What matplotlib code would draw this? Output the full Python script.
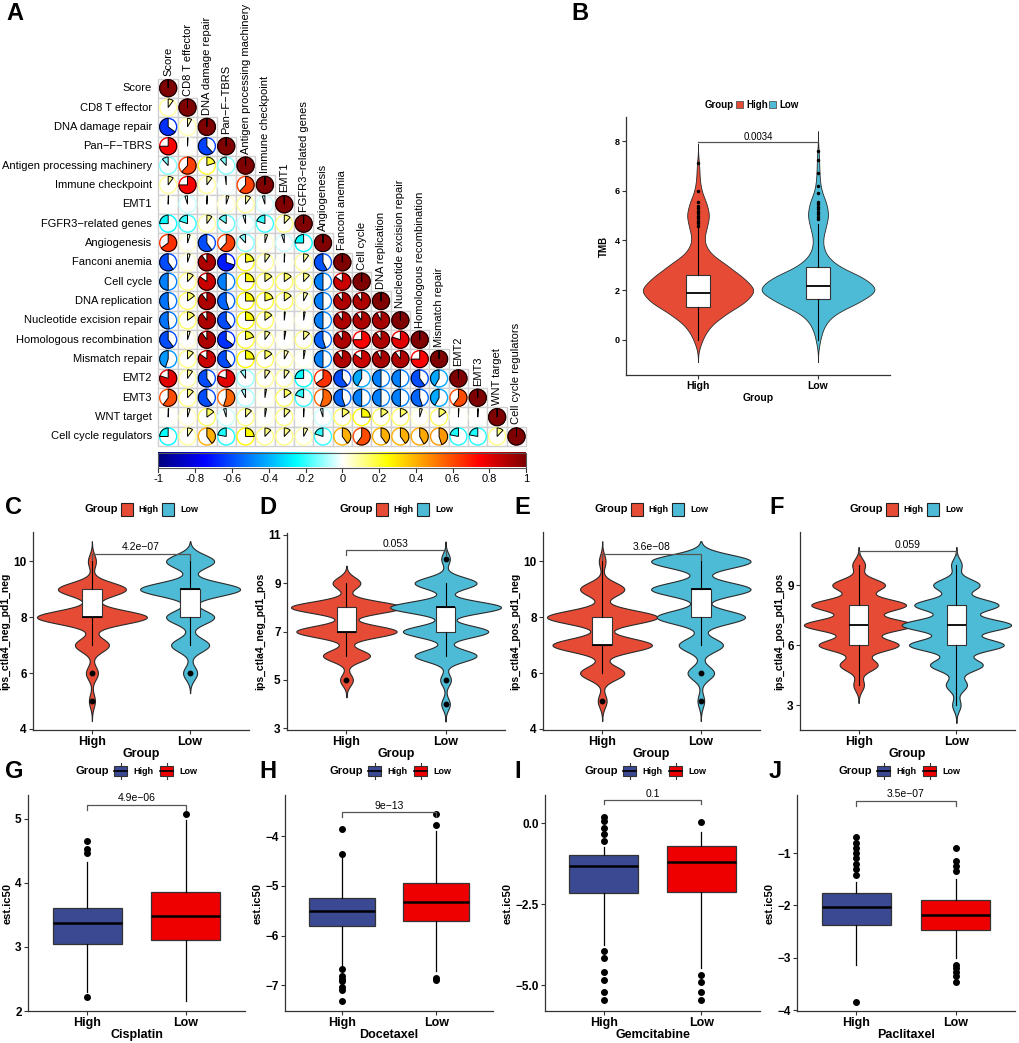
import numpy as np
import matplotlib
matplotlib.use("Agg")
import matplotlib.pyplot as plt
from matplotlib.patches import Wedge, Circle, Rectangle
from matplotlib.colors import LinearSegmentedColormap

plt.rcParams['font.family'] = ['Liberation Sans', 'DejaVu Sans']

W, H = 1020, 1043

# ----------------------------- Panel A data -----------------------------
signatures = ["Score", "CD8 T effector", "DNA damage repair", "Pan\u2212F\u2212TBRS",
              "Antigen processing machinery", "Immune checkpoint", "EMT1",
              "FGFR3\u2212related genes", "Angiogenesis", "Fanconi anemia", "Cell cycle",
              "DNA replication", "Nucleotide excision repair", "Homologous recombination",
              "Mismatch repair", "EMT2", "EMT3", "WNT target", "Cell cycle regulators"]
corr_lower = [
    [1],
    [0.10, 1],
    [-0.65, 0.08, 1],
    [0.75, 0.01, -0.62, 1],
    [-0.12, 0.62, 0.20, -0.12, 1],
    [0.10, 0.75, 0.10, -0.02, 0.62, 1],
    [0.01, -0.05, 0.01, 0.05, 0.10, -0.05, 1],
    [-0.25, -0.20, 0.10, -0.15, -0.05, -0.20, 0.12, 1],
    [0.65, 0.05, -0.60, 0.62, -0.12, 0.05, -0.05, -0.25, 1],
    [-0.60, 0.05, 0.90, -0.70, 0.22, 0.10, 0.01, 0.10, -0.58, 1],
    [-0.50, 0.12, 0.85, -0.50, 0.25, 0.15, 0.15, 0.12, -0.50, 0.85, 1],
    [-0.52, 0.15, 0.90, -0.55, 0.25, 0.20, 0.15, 0.08, -0.50, 0.90, 0.90, 1],
    [-0.52, 0.15, 0.90, -0.60, 0.25, 0.15, 0.02, 0.03, -0.50, 0.90, 0.90, 0.92, 1],
    [-0.60, 0.05, 0.90, -0.65, 0.20, 0.10, 0.03, 0.12, -0.55, 0.90, 0.75, 0.90, 0.80, 1],
    [-0.45, 0.12, 0.85, -0.60, 0.25, 0.15, 0.08, 0.03, -0.50, 0.90, 0.85, 0.92, 0.90, 0.75, 1],
    [0.80, 0.10, -0.60, 0.80, -0.10, 0.10, 0.10, -0.25, 0.65, -0.60, -0.42, -0.50, -0.50,
     -0.60, -0.42, 1],
    [0.60, 0.12, -0.60, 0.55, -0.08, 0.03, 0.15, -0.20, 0.55, -0.55, -0.50, -0.50, -0.50,
     -0.55, -0.42, 0.60, 1],
    [0.01, 0.05, 0.15, -0.05, 0.12, 0.03, 0.12, 0.01, -0.05, 0.15, 0.25, 0.15, 0.15, 0.05,
     0.15, 0.01, 0.01, 1],
    [-0.25, 0.10, 0.40, -0.22, 0.25, 0.12, 0.12, 0.08, -0.20, 0.40, 0.60, 0.40, 0.40, 0.42,
     0.45, -0.22, -0.22, 0.12, 1],
]
cbar_ticks = [-1, -0.8, -0.6, -0.4, -0.2, 0, 0.2, 0.4, 0.6, 0.8, 1]
cbar_labels = ["-1", "-0.8", "-0.6", "-0.4", "-0.2", "0", "0.2", "0.4", "0.6", "0.8", "1"]

# ----------------------------- Panel B data (TMB) -----------------------------
groups = ["High", "Low"]
tmb_levels = [0, 0.5, 1.0, 1.5, 2.0, 2.5, 3.0, 3.5, 4.0, 4.5, 5.0, 5.5, 6.0, 6.5, 7.0, 7.5]
tmb_high_w = [4, 10, 24, 44, 55, 42, 27, 10, 5, 8, 11, 8, 3, 1.5, 1.2, 0]
tmb_low_w = [2, 5, 13, 38, 58, 43, 16, 6, 4, 7, 10, 8, 3, 1.5, 1.2, 0.8]
tmb_high_box = dict(whislo=0.0, q1=1.31, med=1.90, q3=2.61, whishi=4.55)
tmb_low_box = dict(whislo=0.0, q1=1.65, med=2.17, q3=2.92, whishi=4.68)
tmb_high_out = [4.6, 4.7, 4.8, 4.9, 5.0, 5.1, 5.2, 5.3, 5.4, 5.55, 6.0, 7.1]
tmb_low_out = [4.85, 4.95, 5.05, 5.15, 5.25, 5.35, 5.45, 5.55, 5.9, 6.2, 6.7, 7.25, 7.6]
tmb_p = "0.0034"

# ----------------------------- Panels C-F data (IPS) -----------------------------
ips_levels = [4, 5, 6, 7, 8, 9, 10]
C_high_w = [0, 3, 6, 17, 55, 34, 4]
C_low_w = [0, 0, 7, 19, 24, 50, 24]
C_high_box = dict(whislo=7, q1=8, med=8, q3=9, whishi=10)
C_low_box = dict(whislo=7, q1=8, med=9, q3=9, whishi=10)
C_high_out = [6, 5]
C_low_out = [6]
C_p = "4.2e\u221207"

D_high_w = [0, 6, 22, 47, 52, 13, 0]
D_low_w = [4, 5, 29, 40, 52, 29, 4]
D_high_box = dict(whislo=6, q1=7, med=7, q3=8, whishi=9)
D_low_box = dict(whislo=6, q1=7, med=8, q3=8, whishi=9)
D_high_out = [5]
D_low_out = [10, 5, 4]
D_p = "0.053"

E_high_w = [0, 4, 20, 45, 50, 20, 3]
E_low_w = [0, 3, 12, 20, 40, 45, 45]
E_high_box = dict(whislo=6, q1=7, med=7, q3=8, whishi=10)
E_low_box = dict(whislo=7, q1=8, med=9, q3=9, whishi=10)
E_high_out = [5]
E_low_out = [6, 5]
E_p = "3.6e\u221208"

F_levels = [3, 4, 5, 6, 7, 8, 9, 10]
F_high_w = [0, 5, 18, 38, 52, 45, 25, 6]
F_low_w = [4, 10, 25, 45, 52, 40, 22, 5]
F_high_box = dict(whislo=4, q1=6, med=7, q3=8, whishi=10)
F_low_box = dict(whislo=3, q1=6, med=7, q3=8, whishi=10)
F_p = "0.059"

# ----------------------------- Panels G-J data (drug IC50) -----------------------------
drugs = ["Cisplatin", "Docetaxel", "Gemcitabine", "Paclitaxel"]
G_box = [dict(whislo=2.30, q1=3.05, med=3.37, q3=3.61, whishi=4.33, fliers=[4.47, 4.52, 4.66, 2.22]),
         dict(whislo=2.15, q1=3.10, med=3.48, q3=3.86, whishi=4.98, fliers=[5.07])]
H_box = [dict(whislo=-6.60, q1=-5.81, med=-5.50, q3=-5.25, whishi=-4.43,
              fliers=[-4.35, -3.85, -6.67, -6.82, -6.87, -6.92, -7.03, -7.10, -7.32]),
         dict(whislo=-6.72, q1=-5.70, med=-5.32, q3=-4.95, whishi=-3.90,
              fliers=[-3.78, -3.55, -6.86, -6.90])]
I_box = [dict(whislo=-3.77, q1=-2.16, med=-1.33, q3=-0.99, whishi=-0.75,
              fliers=[-0.55, -0.35, -0.15, 0.05, 0.2, -3.95, -4.15, -4.6, -4.85, -5.2, -5.45]),
         dict(whislo=-4.48, q1=-2.13, med=-1.20, q3=-0.71, whishi=-0.28,
              fliers=[0.03, -4.7, -4.9, -5.2, -5.45])]
J_box = [dict(whislo=-3.13, q1=-2.37, med=-2.03, q3=-1.76, whishi=-1.55,
              fliers=[-0.7, -0.8, -0.9, -1.0, -1.1, -1.2, -1.3, -1.42, -3.84]),
         dict(whislo=-3.0, q1=-2.47, med=-2.18, q3=-1.90, whishi=-1.5,
              fliers=[-0.9, -1.15, -1.25, -1.35, -3.13, -3.2, -3.27, -3.35, -3.45])]
drug_p = ["4.9e\u221206", "9e\u221213", "0.1", "3.5e\u221207"]

# ----------------------------- colours -----------------------------
VIO_COL = ["#E64B35", "#4DBBD5"]
BOX_COL = ["#3B4992", "#EE0000"]
corr_cmap = LinearSegmentedColormap.from_list(
    "corr", ["#00007F", "blue", "#007FFF", "cyan", "white", "yellow", "#FF7F00", "red", "#7F0000"])

fig = plt.figure(figsize=(W / 100, H / 100), dpi=100)


def px_axes(l, t, r, b):
    return fig.add_axes([l / W, 1 - b / H, (r - l) / W, (b - t) / H])


# ============================ Panel A ============================
cell = 19.35
x0, y0 = 158.5, 78.5
axA = px_axes(0, 0, 560, 490)
axA.set_xlim(-x0 / cell, (560 - x0) / cell)
axA.set_ylim(-(490 - y0) / cell, y0 / cell)
axA.axis("off")
n = len(signatures)
for i, row in enumerate(corr_lower):
    for j, r in enumerate(row):
        cx, cy = j + 0.5, -(i + 0.5)
        axA.add_patch(Rectangle((j, -(i + 1)), 1, 1, fc="white", ec="#D0D0D0", lw=1.0, zorder=1))
        col = corr_cmap((r + 1) / 2)
        rad = 0.44
        axA.add_patch(Circle((cx, cy), rad, fc="white", ec=col, lw=1.0, zorder=2))
        ang = 360 * min(abs(r), 0.9995)
        if r >= 0:
            t1, t2 = 90 - ang, 90
        else:
            t1, t2 = 90, 90 + ang
        axA.add_patch(Wedge((cx, cy), rad, t1, t2, fc=col, ec="black", lw=0.7, zorder=3))
    axA.text(-0.33, -(i + 0.5), signatures[i], ha="right", va="center", fontsize=8)
    axA.text(i + 0.5, -i + 0.12, signatures[i], ha="center", va="bottom", rotation=90, fontsize=8)

grad = np.linspace(-1, 1, 256)[None, :]
cb_top, cb_bot = -(453 - y0) / cell, -(467.5 - y0) / cell
axA.imshow(grad, cmap=corr_cmap, vmin=-1, vmax=1, aspect="auto",
           extent=[0, n, cb_bot, cb_top], zorder=2)
axA.add_patch(Rectangle((0, cb_bot), n, cb_top - cb_bot, fc="none", ec="#555555", lw=0.8, zorder=3))
for tv, tl in zip(cbar_ticks, cbar_labels):
    xx = (tv + 1) / 2 * n
    axA.plot([xx, xx], [cb_bot, cb_bot - 0.22], color="#333333", lw=0.8)
    axA.text(xx, cb_bot - 0.35, tl, ha="center", va="top", fontsize=8)


# ============================ helpers ============================
def style_axes(ax, fs=8):
    for s in ["top", "right"]:
        ax.spines[s].set_visible(False)
    for s in ["left", "bottom"]:
        ax.spines[s].set_color("#333333")
        ax.spines[s].set_linewidth(0.9)
    ax.tick_params(axis="both", colors="#333333", length=3, width=0.8, labelsize=fs,
                   labelcolor="black", pad=1.5)
    for lab in ax.get_xticklabels() + ax.get_yticklabels():
        lab.set_fontweight("bold")
    ax.patch.set_alpha(0)


def kde_profile(levels, weights, h):
    lv = np.asarray(levels, float)
    w = np.asarray(weights, float)
    nz = lv[w > 0]
    g = np.linspace(nz.min() - 3 * h, nz.max() + 3 * h, 500)
    d = (w[:, None] * np.exp(-(g[None, :] - lv[:, None]) ** 2 / (2 * h * h))).sum(0)
    return g, d


def violin_panel(ax, levels, wlist, h, max_half, boxes, outs, boxw, fly_ms, lw_edge):
    profs = [kde_profile(levels, w, h) for w in wlist]
    scale = max_half / max(p[1].max() for p in profs)
    for k, (g, d) in enumerate(profs):
        pos = k + 1
        ax.fill_betweenx(g, pos - d * scale, pos + d * scale, fc=VIO_COL[k], ec="#2a2a2a",
                         lw=lw_edge, zorder=2)
        st = dict(boxes[k])
        st["fliers"] = outs[k]
        ax.bxp([st], positions=[pos], widths=boxw, patch_artist=True, showcaps=False,
               boxprops=dict(facecolor="white", edgecolor="#333333", lw=0.8),
               medianprops=dict(color="black", lw=1.3),
               whiskerprops=dict(color="black", lw=0.8),
               flierprops=dict(marker="o", markerfacecolor="black", markeredgecolor="black",
                               markersize=fly_ms), zorder=3)


def bracket(ax, y, tip, label, fs):
    ax.plot([1, 1, 2, 2], [y - tip, y, y, y - tip], color="#555555", lw=0.9, zorder=4)
    ax.text(1.5, y + abs(tip) * 0.3, label, ha="center", va="bottom", fontsize=fs, zorder=4)


ov = fig.add_axes([0, 0, 1, 1], zorder=10)
ov.set_xlim(0, W)
ov.set_ylim(H, 0)
ov.axis("off")
ov.patch.set_alpha(0)

for letter, (lx, ly) in zip("ABCDEFGHIJ", [(6, 13), (571, 13), (5, 508), (259, 508), (514, 508),
                                          (769, 508), (5, 771), (259, 771), (514, 771), (769, 771)]):
    ov.text(lx, ly, letter, fontsize=17, fontweight="bold", ha="left", va="center")

# ============================ Panel B ============================
axB = px_axes(626, 117, 890, 375)
violin_panel(axB, tmb_levels, [tmb_high_w, tmb_low_w], 0.3, 0.47,
             [tmb_high_box, tmb_low_box], [tmb_high_out, tmb_low_out], 0.2, 1.5, 0.6)
axB.set_xlim(0.4, 2.6)
axB.set_ylim(-1.42, 8.97)
axB.set_xticks([1, 2])
axB.set_xticklabels(groups)
axB.set_yticks([0, 2, 4, 6, 8])
axB.set_xlabel("Group", fontsize=7.5, fontweight="bold", labelpad=1)
axB.set_ylabel("TMB", fontsize=7, fontweight="bold", labelpad=4)
style_axes(axB, 6.5)
axB.tick_params(axis="x", labelsize=7.5)
bracket(axB, 7.96, 0.0, tmb_p, 7)

ov.text(705, 105, "Group", fontsize=7, fontweight="bold", ha="left", va="center")
for k, (kx, tx) in enumerate([(736.5, 746), (769, 779)]):
    ov.add_patch(Rectangle((kx, 101), 7, 7, fc=VIO_COL[k], ec="#555555", lw=0.6))
    ov.text(tx, 105, groups[k], fontsize=7, fontweight="bold", ha="left", va="center")

# ============================ Panels C-F ============================
vio_specs = [
    ("ips_ctla4_neg_pd1_neg", (33, 532, 249, 730), (3.96, 11.05), [4, 6, 8, 10], ips_levels,
     [C_high_w, C_low_w], [C_high_box, C_low_box], [C_high_out, C_low_out], 10.26, C_p, 0, 0.24),
    ("ips_ctla4_neg_pd1_pos", (287, 533, 505, 730), (2.93, 11.07), [3, 5, 7, 9, 11], ips_levels,
     [D_high_w, D_low_w], [D_high_box, D_low_box], [D_high_out, D_low_out], 10.36, D_p, 255, 0.24),
    ("ips_ctla4_pos_pd1_neg", (543, 532, 760, 730), (3.96, 11.05), [4, 6, 8, 10], ips_levels,
     [E_high_w, E_low_w], [E_high_box, E_low_box], [E_high_out, E_low_out], 10.26, E_p, 510, 0.24),
    ("ips_ctla4_pos_pd1_pos", (800, 532, 1015, 730), (1.75, 11.65), [3, 6, 9], F_levels,
     [F_high_w, F_low_w], [F_high_box, F_low_box], [[], []], 10.7, F_p, 765, 0.3),
]
for ylab, rect, ylim, yt, lev, wl, bx, outs, by, pl, off, bw in vio_specs:
    ax = px_axes(*rect)
    violin_panel(ax, lev, wl, bw, 0.56, bx, outs, 0.2, 3.2, 0.8)
    ax.set_xlim(0.4, 2.6)
    ax.set_ylim(*ylim)
    ax.set_xticks([1, 2])
    ax.set_xticklabels(groups)
    ax.set_yticks(yt)
    ax.set_xlabel("Group", fontsize=9, fontweight="bold", labelpad=0)
    ax.set_ylabel(ylab, fontsize=7.5, fontweight="bold", labelpad=2)
    style_axes(ax, 8.5)
    ax.tick_params(axis="x", labelsize=9, pad=1)
    bracket(ax, by, 0.2, pl, 7.5)
    ov.text(85 + off, 509, "Group", fontsize=8, fontweight="bold", ha="left", va="center")
    for k, (kx, tx) in enumerate([(121, 138), (162, 180)]):
        ov.add_patch(Rectangle((kx + off, 503), 12.5, 12.5, fc=VIO_COL[k], ec="#222222", lw=0.8))
        ov.text(tx + off, 509, groups[k], fontsize=6.5, fontweight="bold", ha="left", va="center")

# ============================ Panels G-J ============================
box_specs = [
    ((28, 795, 245, 1011), (2.0, 5.37), [2, 3, 4, 5], None, G_box, 5.22, 0.08, 0),
    ((285, 795, 493, 1011), (-7.52, -3.17), [-7, -6, -5, -4], None, H_box, -3.52, 0.1, 254),
    ((545, 795, 760, 1011), (-5.80, 0.864), [-5.0, -2.5, 0.0], ["\u22125.0", "\u22122.5", "0.0"],
     I_box, 0.71, 0.12, 509),
    ((797, 795, 1015, 1011), (-4.01, 0.105), [-4, -3, -2, -1], None, J_box, 0.0, 0.1, 763),
]
for idx, (rect, ylim, yt, ytl, bstats, by, tip, off) in enumerate(box_specs):
    ax = px_axes(*rect)
    for k in range(2):
        ax.bxp([bstats[k]], positions=[k + 1], widths=0.7, patch_artist=True, showcaps=False,
               boxprops=dict(facecolor=BOX_COL[k], edgecolor="#333333", lw=0.9),
               medianprops=dict(color="black", lw=1.8),
               whiskerprops=dict(color="black", lw=0.9),
               flierprops=dict(marker="o", markerfacecolor="black", markeredgecolor="black",
                               markersize=4), zorder=3)
    ax.set_xlim(0.4, 2.6)
    ax.set_ylim(*ylim)
    ax.set_xticks([1, 2])
    ax.set_xticklabels(groups)
    ax.set_yticks(yt)
    if ytl:
        ax.set_yticklabels(ytl)
    ax.set_xlabel(drugs[idx], fontsize=9, fontweight="bold", labelpad=0)
    ax.set_ylabel("est.ic50", fontsize=8, fontweight="bold", labelpad=2)
    style_axes(ax, 8.5)
    ax.tick_params(axis="x", labelsize=9, pad=1)
    bracket(ax, by, tip, drug_p[idx], 7.5)
    ov.text(76 + off, 771, "Group", fontsize=8, fontweight="bold", ha="left", va="center")
    for k, (kx, tx) in enumerate([(114, 133), (160, 179)]):
        ov.add_patch(Rectangle((kx + off, 766), 13.5, 10, fc=BOX_COL[k], ec="#333333", lw=0.8))
        ov.plot([kx + off + 6.75] * 2, [763, 766], color="#333333", lw=0.8)
        ov.plot([kx + off + 6.75] * 2, [776, 779], color="#333333", lw=0.8)
        ov.plot([kx + off, kx + off + 13.5], [771, 771], color="black", lw=1.2)
        ov.text(tx + off, 771, groups[k], fontsize=6.5, fontweight="bold", ha="left", va="center")

fig.savefig("out.png", dpi=100, facecolor="white")
